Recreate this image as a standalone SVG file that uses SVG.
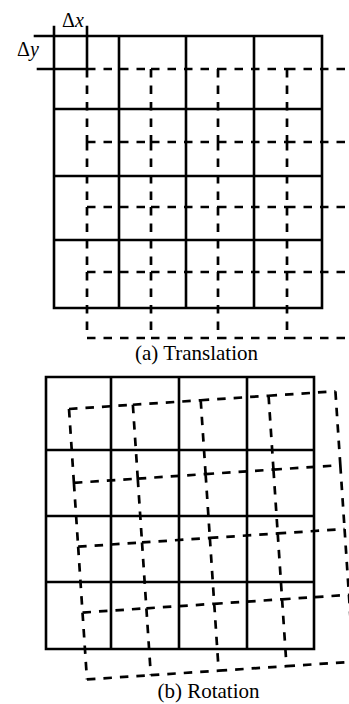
<svg xmlns="http://www.w3.org/2000/svg" width="349" height="704" viewBox="0 0 349 704">
  <style>
    .solid { fill: none; stroke: #000; stroke-width: 2.6; stroke-linecap: square; }
    .dash { fill: none; stroke: #000; stroke-width: 2.7; stroke-dasharray: 8.5 8; stroke-linecap: butt; }
    .lbl { fill: #000; }
  </style>
  <rect width="349" height="704" fill="#fff"/>

  <g id="translation">
    <g id="translation-solid-grid">
      <path class="solid" d="M35 36 H322 M54 109 H322 M54 176 H322 M54 240 H322 M54 308 H322
        M54 27 V308 M119 36 V308 M186 36 V308 M254 36 V308 M322 36 V308"/>
      <path class="solid" d="M87 27 V69 M38 69 H87"/>
    </g>
    <g id="translation-dashed-grid">
      <path class="dash" d="
        M87 69 H151 M151 69 H218 M218 69 H287 M287 69 H354
        M87 142 H151 M151 142 H218 M218 142 H287 M287 142 H354
        M87 207 H151 M151 207 H218 M218 207 H287 M287 207 H354
        M87 272 H151 M151 272 H218 M218 272 H287 M287 272 H354
        M87 338 H151 M151 338 H218 M218 338 H287 M287 338 H354
        M87 69 V142 M87 142 V207 M87 207 V272 M87 272 V338
        M151 69 V142 M151 142 V207 M151 207 V272 M151 272 V338
        M218 69 V142 M218 142 V207 M218 207 V272 M218 272 V338
        M287 69 V142 M287 142 V207 M287 207 V272 M287 272 V338"/>
    </g>
    <text class="lbl" x="62" y="27" font-family="'Liberation Serif', 'DejaVu Serif', serif" font-size="20">Δ<tspan font-style="italic">x</tspan></text>
    <text class="lbl" x="17" y="56" font-family="'Liberation Serif', 'DejaVu Serif', serif" font-size="20">Δ<tspan font-style="italic">y</tspan></text>
    <text class="lbl" x="196.5" y="360" font-family="'Liberation Serif', 'DejaVu Serif', serif" font-size="21" text-anchor="middle">(a) Translation</text>
  </g>

  <g id="rotation">
    <g id="rotation-solid-grid">
      <path class="solid" d="M46 377 H314 M46 450 H314 M46 516 H314 M46 582 H314 M46 649 H314
        M46 377 V649 M111 377 V649 M179 377 V649 M247 377 V649 M314 377 V649"/>
    </g>
    <g id="rotation-dashed-grid" transform="translate(69,409) rotate(-3.8)">
      <path class="dash" d="
        M0 0 H64 M64 0 H132 M132 0 H200 M200 0 H267
        M0 74 H64 M64 74 H132 M132 74 H200 M200 74 H267
        M0 138 H64 M64 138 H132 M132 138 H200 M200 138 H267
        M0 204 H64 M64 204 H132 M132 204 H200 M200 204 H267
        M0 271 H64 M64 271 H132 M132 271 H200 M200 271 H267
        M0 0 V74 M0 74 V138 M0 138 V204 M0 204 V271
        M64 0 V74 M64 74 V138 M64 138 V204 M64 204 V271
        M132 0 V74 M132 74 V138 M132 138 V204 M132 204 V271
        M200 0 V74 M200 74 V138 M200 138 V204 M200 204 V271
        M267 0 V74 M267 74 V138 M267 138 V204 M267 204 V271"/>
    </g>
    <text class="lbl" x="208.5" y="698" font-family="'Liberation Serif', 'DejaVu Serif', serif" font-size="21" text-anchor="middle">(b) Rotation</text>
  </g>
</svg>
